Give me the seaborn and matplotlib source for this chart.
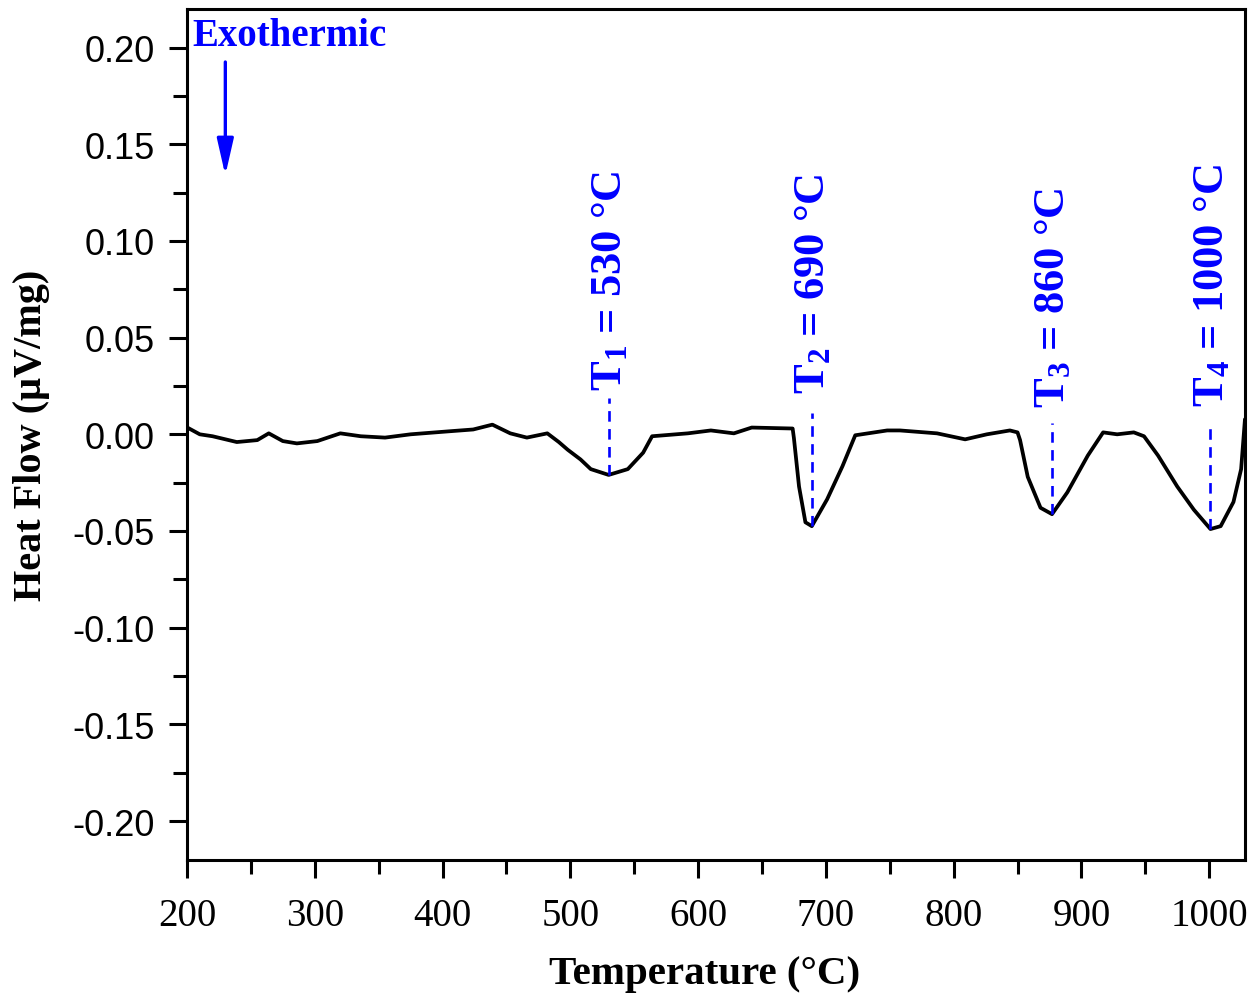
import matplotlib
matplotlib.use("Agg")
import matplotlib.pyplot as plt
from matplotlib.ticker import MultipleLocator, FormatStrFormatter
import pandas as pd
import seaborn as sns

# DSC trace
temperature = [200, 210, 220, 239, 255, 264, 275, 286, 302, 320, 336, 355, 375, 404, 424,
               439, 453, 466, 482, 491, 498, 508, 516, 530, 545, 557, 564, 592, 610, 628,
               642, 674, 675, 679, 684, 689, 701, 713, 723, 748, 758, 787, 809, 826, 844,
               850, 852, 858, 868, 877, 889, 905, 917, 928, 941, 949, 960, 975, 988, 1001,
               1009, 1019, 1025, 1028]
heat_flow = [0.0036, 0.0, -0.001, -0.004, -0.003, 0.0005, -0.0035, -0.0047, -0.0035, 0.0005,
             -0.001, -0.0017, 0.0, 0.0015, 0.0025, 0.005, 0.0005, -0.0017, 0.0005, -0.004,
             -0.008, -0.013, -0.018, -0.021, -0.018, -0.0095, -0.001, 0.0005, 0.002, 0.0005,
             0.0035, 0.003, -0.002, -0.027, -0.0455, -0.0475, -0.0336, -0.0165, -0.0005, 0.002,
             0.002, 0.0005, -0.0026, 0.0, 0.002, 0.001, -0.003, -0.022, -0.038, -0.0413,
             -0.030, -0.011, 0.001, 0.0, 0.001, -0.001, -0.011, -0.027, -0.039, -0.049,
             -0.0475, -0.035, -0.018, 0.0078]

# peak markers: where the dashed line sits, the curve minimum, and the label
peak_x = [530, 689, 877, 1001]
peak_min = [-0.021, -0.0475, -0.0413, -0.049]
line_top = [0.019, 0.011, 0.006, 0.006]
label_bottom = [0.023, 0.0215, 0.014, 0.0145]
peak_labels = ["T$_1$ = 530 °C", "T$_2$ = 690 °C", "T$_3$ = 860 °C", "T$_4$ = 1000 °C"]

df = pd.DataFrame({"Temperature": temperature, "HeatFlow": heat_flow})

sns.set_style("ticks")
plt.rcParams["axes.unicode_minus"] = False
plt.rcParams["mathtext.fontset"] = "custom"
plt.rcParams["mathtext.rm"] = "Liberation Serif:bold"
plt.rcParams["mathtext.it"] = "Liberation Serif:bold"
plt.rcParams["mathtext.bf"] = "Liberation Serif:bold"

fig = plt.figure(figsize=(12.55, 9.95), dpi=100)
ax = fig.add_axes([0.149, 0.135, 0.843, 0.855])

sns.lineplot(data=df, x="Temperature", y="HeatFlow", color="black", linewidth=2.7,
             estimator=None, ax=ax)

blue = "#0000ff"
for x, ymin, ytop, yb, lab in zip(peak_x, peak_min, line_top, label_bottom, peak_labels):
    ax.plot([x, x], [ymin, ytop], color=blue, linestyle=(0, (4, 2.8)), linewidth=1.9)
    ax.text(x + 1, yb, lab, rotation=90, ha="center", va="bottom", color=blue,
            fontsize=32, fontweight="bold", family="Liberation Serif")

# exothermic arrow
ax.text(204.5, 0.2016, "Exothermic", color=blue, fontsize=28, fontweight="bold",
        family="Liberation Serif", va="baseline", ha="left")
ax.annotate("", xy=(230, 0.1325), xytext=(230, 0.194),
            arrowprops=dict(arrowstyle="-|>,head_width=0.25,head_length=1.1",
                            color=blue, lw=2.4, mutation_scale=20))

ax.set_xlim(200, 1028)
ax.set_ylim(-0.22, 0.22)
ax.xaxis.set_major_locator(MultipleLocator(100))
ax.xaxis.set_minor_locator(MultipleLocator(50))
ax.yaxis.set_major_locator(MultipleLocator(0.05))
ax.yaxis.set_minor_locator(MultipleLocator(0.025))
ax.yaxis.set_major_formatter(FormatStrFormatter("%.2f"))

ax.tick_params(which="major", length=13, width=2.2, direction="out", pad=10,
               colors="black")
ax.tick_params(which="minor", length=10, width=2.2, direction="out", colors="black")
ax.tick_params(axis="x", which="major", pad=14)
ax.tick_params(top=False, right=False, which="both")

for lbl in ax.get_xticklabels():
    lbl.set_fontfamily("Liberation Serif")
    lbl.set_fontsize(28)
for lbl in ax.get_yticklabels():
    lbl.set_fontfamily("Liberation Sans")
    lbl.set_fontsize(26)

for sp in ax.spines.values():
    sp.set_linewidth(2.2)
    sp.set_color("black")

ax.set_xlabel("Temperature (°C)", fontsize=29.5, fontweight="bold",
              family="Liberation Serif", color="black", labelpad=16)
ax.set_ylabel("Heat Flow (μV/mg)", fontsize=29, fontweight="bold",
              family="Liberation Serif", color="black", labelpad=16)
ax.xaxis.set_label_coords(0.489, -0.112)

fig.savefig("out.png", dpi=100)
